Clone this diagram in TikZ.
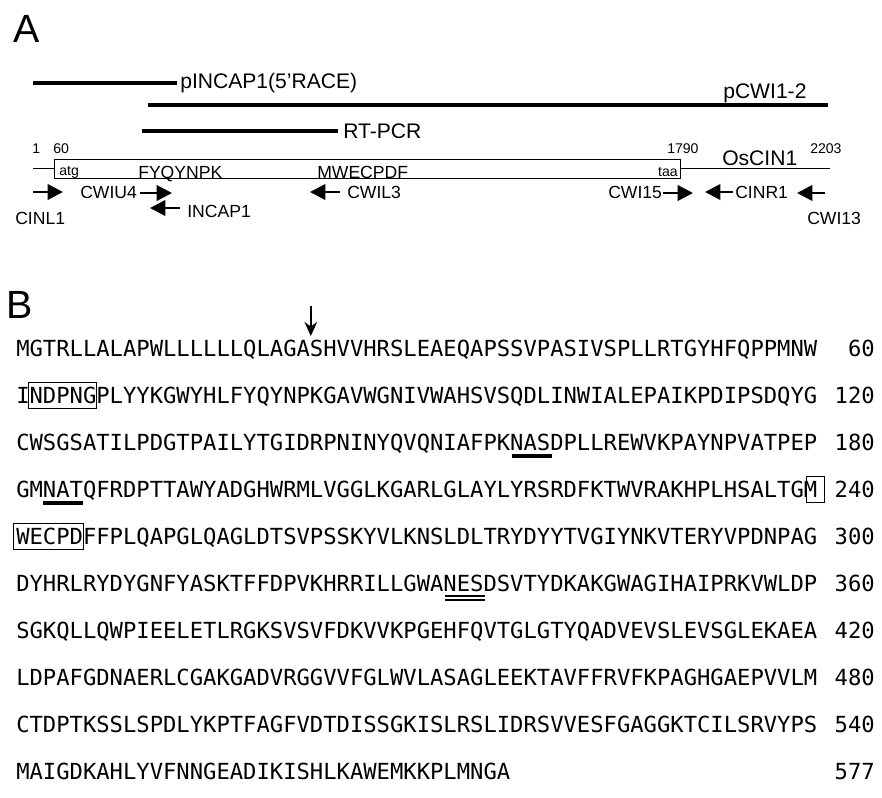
\documentclass[tikz,border=0pt]{standalone}
\usepackage{fontspec}
\setmainfont{Liberation Sans}
\newfontfamily\seqfont{DejaVu Sans Mono}
\usetikzlibrary{arrows.meta, calc, positioning}

% width of one residue in the sequence font (picture units)
\newcommand{\cw}{13.4}

\begin{document}
\begin{tikzpicture}[
    x=0.025cm, y=-0.025cm,
    panel/.style={font=\fontsize{28}{30}\selectfont, inner sep=0, anchor=base west},
    clone/.style={line width=2.5pt},
    clonelabel/.style={font=\fontsize{15}{18}\selectfont, inner sep=0, anchor=base west},
    ntpos/.style={font=\fontsize{10}{12}\selectfont, inner sep=0, anchor=base west},
    orf/.style={draw, line width=0.7pt, rectangle, minimum width=15.625cm, minimum height=0.475cm, inner sep=0},
    utr/.style={line width=1pt},
    motiftxt/.style={font=\fontsize{12.5}{14}\selectfont, inner sep=0, anchor=base west},
    primer/.style={line width=2pt, -{Triangle[length=11pt,width=11pt]}},
    primerlabel/.style={font=\fontsize{12.5}{15}\selectfont, inner sep=0},
    seq/.style={font=\seqfont\fontsize{15.77}{18}\selectfont, inner sep=0, anchor=base west},
    seqnum/.style={font=\seqfont\fontsize{15.77}{18}\selectfont, inner sep=0, anchor=base east},
    seqbox/.style={draw, line width=0.6pt},
    glyco/.style={line width=2.2pt},
    nes/.style={line width=1.1pt}
]
    \useasboundingbox (0,0) rectangle (882,797);

    % --- Panel A ---
    \node[panel] (labA) at (13,42) {A};

    % clones
    \coordinate (race1) at (33,83);
    \coordinate (race2) at (177,83);
    \draw[clone] (race1) -- (race2);
    \node[clonelabel] (race) at (180,88) {pINCAP1(5'RACE)};

    \coordinate (cwi1) at (148,105);
    \coordinate (cwi2) at (828,105);
    \draw[clone] (cwi1) -- (cwi2);
    \node[clonelabel] (pcwi) at (723,98) {pCWI1-2};

    \coordinate (rt1) at (142,131);
    \coordinate (rt2) at (338,131);
    \draw[clone] (rt1) -- (rt2);
    \node[clonelabel] (rtpcr) at (343,138) {RT-PCR};

    % cDNA map
    \node[orf] (cds) at (367.5,168.5) {};
    \coordinate (utr5) at (33,168.5);
    \coordinate (utr3) at (830,168.5);
    \draw[utr] (utr5) -- (cds.west);
    \draw[utr] (cds.east) -- (utr3);

    \node[ntpos] (nt1) at (32,153) {1};
    \node[ntpos] (nt60) at (53,153) {60};
    \node[ntpos] (nt1790) at (667,153) {1790};
    \node[ntpos] (nt2203) at (810,153) {2203};
    \node[ntpos] (atg) at (59,175) {atg};
    \node[ntpos, anchor=base east] (taa) at (678,176) {taa};
    \node[motiftxt] (fyq) at (138,178) {FYQYNPK};
    \node[motiftxt] (mwe) at (317,178) {MWECPDF};
    \node[clonelabel] (gene) at (722,165) {OsCIN1};

    % primers
    \coordinate (cinl1a) at (33,192);
    \coordinate (cinl1b) at (63,192);
    \draw[primer] (cinl1a) -- (cinl1b);
    \node[primerlabel, anchor=west] (cinl1) at (15,218) {CINL1};

    \node[primerlabel, anchor=west] (cwiu4) at (80,192) {CWIU4};
    \coordinate (cwiu4a) at (140,193);
    \coordinate (cwiu4b) at (172,193);
    \draw[primer] (cwiu4a) -- (cwiu4b);

    \coordinate (incapa) at (180,208);
    \coordinate (incapb) at (150,208);
    \draw[primer] (incapa) -- (incapb);
    \node[primerlabel, anchor=west] (incap1) at (187,211) {INCAP1};

    \coordinate (cwil3a) at (340,192);
    \coordinate (cwil3b) at (310,192);
    \draw[primer] (cwil3a) -- (cwil3b);
    \node[primerlabel, anchor=west] (cwil3) at (347,192) {CWIL3};

    \node[primerlabel, anchor=west] (cwi15) at (608,192) {CWI15};
    \coordinate (cwi15a) at (663,193);
    \coordinate (cwi15b) at (693,193);
    \draw[primer] (cwi15a) -- (cwi15b);

    \coordinate (cinr1a) at (733,192);
    \coordinate (cinr1b) at (705,192);
    \draw[primer] (cinr1a) -- (cinr1b);
    \node[primerlabel, anchor=west] (cinr1) at (735,192) {CINR1};

    \coordinate (cwi13a) at (825,193);
    \coordinate (cwi13b) at (797,193);
    \draw[primer] (cwi13a) -- (cwi13b);
    \node[primerlabel, anchor=west] (cwi13) at (807,218) {CWI13};

    % --- Panel B ---
    \node[panel] (labB) at (6,318) {B};

    \node[seq] (row1) at (16,356) {MGTRLLALAPWLLLLLLQLAGASHVVHRSLEAEQAPSSVPASIVSPLLRTGYHFQPPMNW};
    \node[seq] (row2) at (16,403) {INDPNGPLYYKGWYHLFYQYNPKGAVWGNIVWAHSVSQDLINWIALEPAIKPDIPSDQYG};
    \node[seq] (row3) at (16,450) {CWSGSATILPDGTPAILYTGIDRPNINYQVQNIAFPKNASDPLLREWVKPAYNPVATPEP};
    \node[seq] (row4) at (16,497) {GMNATQFRDPTTAWYADGHWRMLVGGLKGARLGLAYLYRSRDFKTWVRAKHPLHSALTGM};
    \node[seq] (row5) at (16,544) {WECPDFFPLQAPGLQAGLDTSVPSSKYVLKNSLDLTRYDYYTVGIYNKVTERYVPDNPAG};
    \node[seq] (row6) at (16,591) {DYHRLRYDYGNFYASKTFFDPVKHRRILLGWANESDSVTYDKAKGWAGIHAIPRKVWLDP};
    \node[seq] (row7) at (16,638) {SGKQLLQWPIEELETLRGKSVSVFDKVVKPGEHFQVTGLGTYQADVEVSLEVSGLEKAEA};
    \node[seq] (row8) at (16,685) {LDPAFGDNAERLCGAKGADVRGGVVFGLWVLASAGLEEKTAVFFRVFKPAGHGAEPVVLM};
    \node[seq] (row9) at (16,732) {CTDPTKSSLSPDLYKPTFAGFVDTDISSGKISLRSLIDRSVVESFGAGGKTCILSRVYPS};
    \node[seq] (row10) at (16,779) {MAIGDKAHLYVFNNGEADIKISHLKAWEMKKPLMNGA};

    \node[seqnum] (n60) at (875,356) {60};
    \node[seqnum] (n120) at (875,403) {120};
    \node[seqnum] (n180) at (875,450) {180};
    \node[seqnum] (n240) at (875,497) {240};
    \node[seqnum] (n300) at (875,544) {300};
    \node[seqnum] (n360) at (875,591) {360};
    \node[seqnum] (n420) at (875,638) {420};
    \node[seqnum] (n480) at (875,685) {480};
    \node[seqnum] (n540) at (875,732) {540};
    \node[seqnum] (n577) at (875,779) {577};

    % signal peptide cleavage site
    \coordinate (cut1) at ($(row1.base west)+(22*\cw,-50)$);
    \coordinate (cut2) at ($(row1.base west)+(22*\cw,-20)$);
    \draw[line width=1.2pt, -{Stealth[length=10pt,width=9pt]}] (cut1) -- (cut2);

    % boxed motifs
    \draw[seqbox] ($(row2.base west)+(1*\cw-1,-21)$) rectangle ($(row2.base west)+(6*\cw,5)$);
    \draw[seqbox] ($(row4.base west)+(59*\cw,-21)$) rectangle ($(row4.base west)+(60*\cw+4,5)$);
    \draw[seqbox] ($(row5.base west)+(-3,-21)$) rectangle ($(row5.base west)+(5*\cw,5)$);

    % glycosylation sites
    \draw[glyco] ($(row3.base west)+(37*\cw,6)$) -- ($(row3.base west)+(40*\cw,6)$);
    \draw[glyco] ($(row4.base west)+(2*\cw,6)$) -- ($(row4.base west)+(5*\cw,6)$);
    \draw[nes] ($(row6.base west)+(32*\cw,5)$) -- ($(row6.base west)+(35*\cw,5)$);
    \draw[nes] ($(row6.base west)+(32*\cw,9)$) -- ($(row6.base west)+(35*\cw,9)$);

\end{tikzpicture}
\end{document}
